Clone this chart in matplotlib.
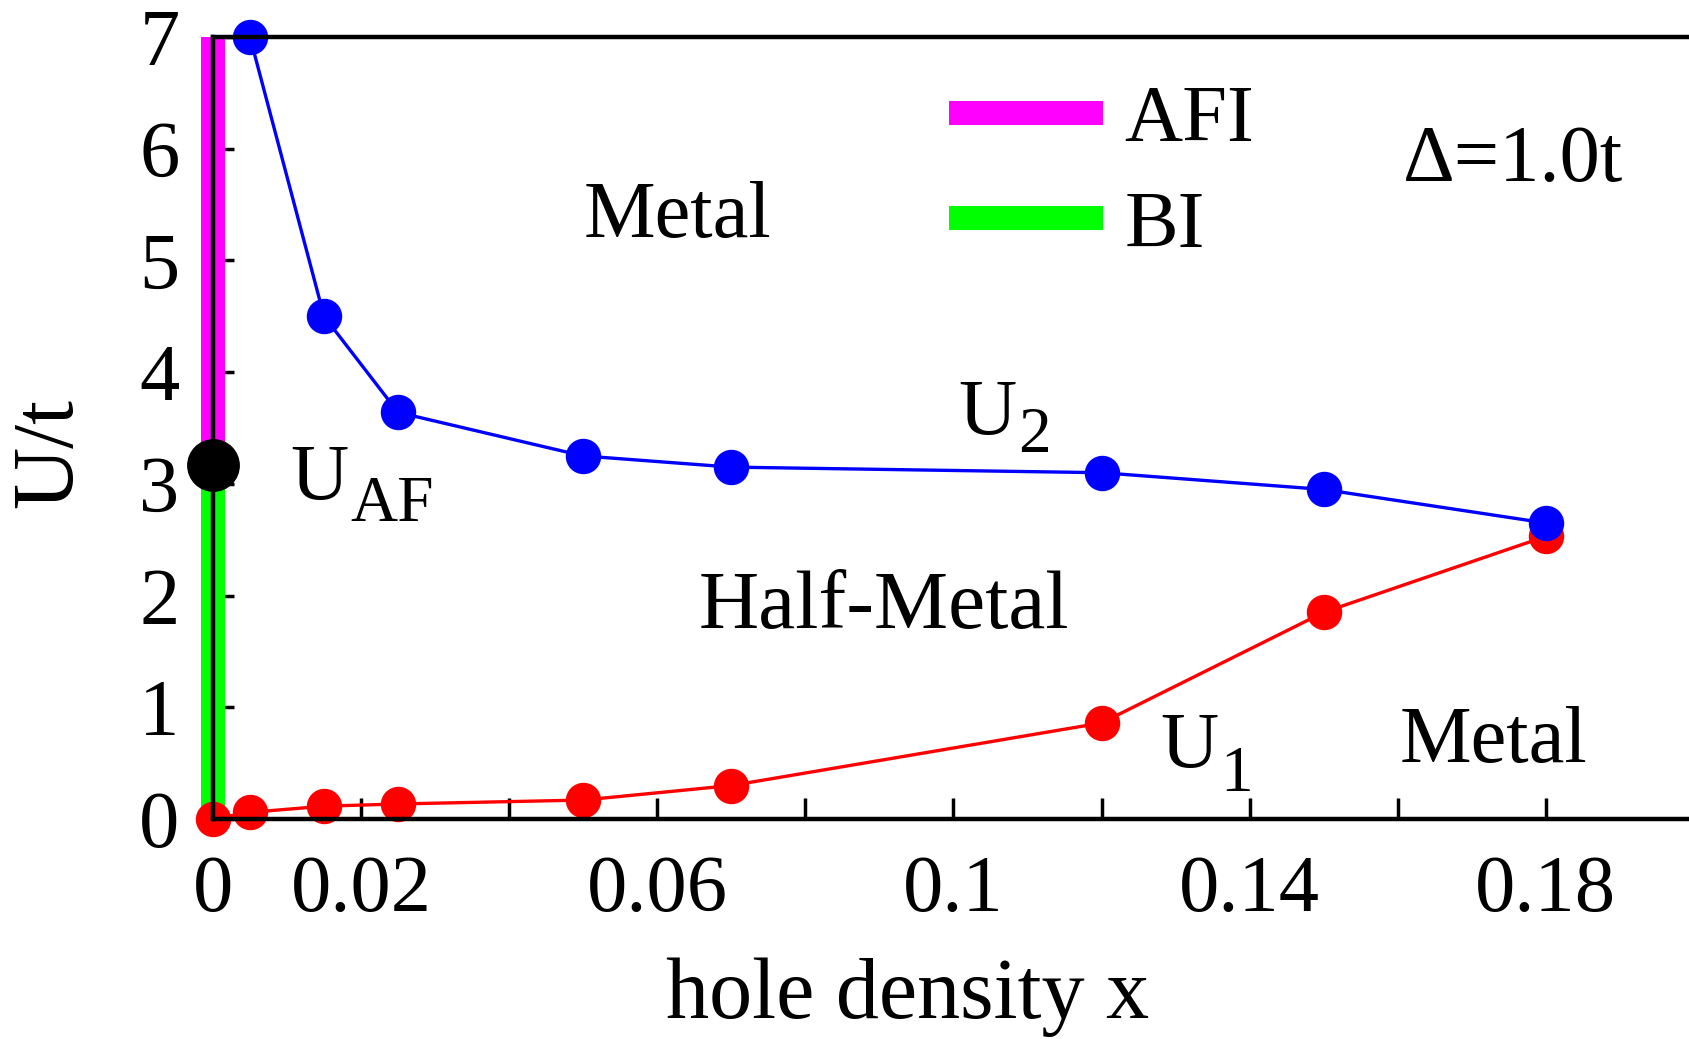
import matplotlib
matplotlib.use("Agg")
import matplotlib.pyplot as plt

plt.rcParams['font.family'] = ['Liberation Serif', 'DejaVu Serif']

# phase boundaries, Delta = 1.0t
x_u2 = [0.005, 0.015, 0.025, 0.05, 0.07, 0.12, 0.15, 0.18]
u2 = [7.0, 4.5, 3.64, 3.25, 3.15, 3.10, 2.95, 2.65]

x_u1 = [0.0, 0.005, 0.015, 0.025, 0.05, 0.07, 0.12, 0.15, 0.18]
u1 = [0.0, 0.06, 0.115, 0.135, 0.17, 0.30, 0.86, 1.85, 2.53]

u_af = 3.17
u_max = 7.0

xticks = [0.02, 0.04, 0.06, 0.08, 0.10, 0.12, 0.14, 0.16, 0.18, 0.20]
xlabels = {0.02: '0.02', 0.06: '0.06', 0.10: '0.1', 0.14: '0.14', 0.18: '0.18'}

FS = 58
SUB = 47


def label_sub(x, y, main, sub, drop=3):
    # "U" followed by a lowered, smaller subscript
    # (offset is from the bottom of the U's box, which sits below the baseline)
    t = ax.text(x, y, main, fontsize=FS, ha='left', va='baseline')
    ax.annotate(sub, xy=(1, 0), xycoords=t, xytext=(1.5, -drop),
                textcoords='offset points', fontsize=SUB, ha='left', va='baseline')


fig = plt.figure(figsize=(16.9, 10.39), dpi=100)
ax = fig.add_axes([0.1260, 0.2117, 0.8763, 0.7527])

# x = 0 line: AFI above U_AF, BI below
ax.plot([0, 0], [u_af, u_max], color='#ff00ff', lw=17.3, solid_capstyle='butt',
        clip_on=False, zorder=3, label='AFI')
ax.plot([0, 0], [0, u_af], color='#00ff00', lw=17.3, solid_capstyle='butt',
        clip_on=False, zorder=3, label='BI')

ax.plot(x_u1, u1, color='#ff0000', lw=2.4, marker='o', ms=24.5, clip_on=False, zorder=4)
ax.plot(x_u2, u2, color='#0000ff', lw=2.4, marker='o', ms=24.5, clip_on=False, zorder=5)
ax.plot([0], [u_af], color='black', marker='o', ms=37, clip_on=False, zorder=6)

ax.set_xlim(0, 0.2)
ax.set_ylim(0, 7)

ax.set_xticks([0] + xticks)
ax.set_xticklabels(['0'] + [xlabels.get(round(t, 2), '') for t in xticks])
ax.set_yticks(range(8))

ax.tick_params(axis='x', direction='in', length=15, width=2.5, labelsize=FS, pad=26)
ax.tick_params(axis='y', direction='in', length=15, width=2.5, labelsize=FS, pad=24)
ax.xaxis.get_major_ticks()[0].tick1line.set_visible(False)

for s in ax.spines.values():
    s.set_linewidth(3.2)
    s.set_zorder(10)

ax.set_xlabel('hole density x', fontsize=62, va='baseline')
ax.xaxis.set_label_coords(0.469, -0.2545)
ax.set_ylabel('U/t', fontsize=62, va='center')
ax.yaxis.set_label_coords(-0.110, 0.468)

ax.text(0.0627, 5.21, 'Metal', fontsize=FS, ha='center', va='baseline')
ax.text(0.0906, 1.71, 'Half-Metal', fontsize=60, ha='center', va='baseline')
ax.text(0.1603, 0.51, 'Metal', fontsize=FS, ha='left', va='baseline')
ax.text(0.1607, 5.71, '\u0394=1.0t', fontsize=FS, ha='left', va='baseline')
label_sub(0.0104, 2.86, 'U', 'AF', drop=3.5)
label_sub(0.1006, 3.44, 'U', '2', drop=0)
label_sub(0.1279, 0.457, 'U', '1', drop=4.5)

ax.legend(loc='upper left', bbox_to_anchor=(0.497, 0.939), frameon=False, fontsize=FS,
          handlelength=1.91, handletextpad=0.27, labelspacing=0.40,
          borderpad=0, borderaxespad=0)

fig.savefig('out.png', dpi=100)
